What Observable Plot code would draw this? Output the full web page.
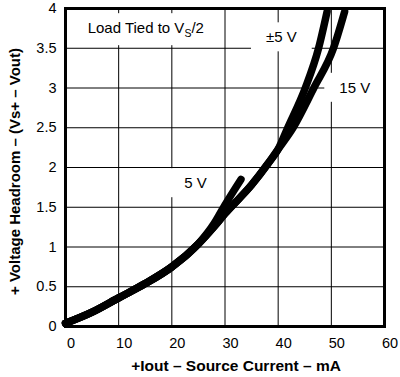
<!DOCTYPE html>
<html><head><meta charset="utf-8">
<script src="https://cdn.jsdelivr.net/npm/d3@7"></script>
<script src="https://cdn.jsdelivr.net/npm/@observablehq/plot@0.6"></script>
<style>body{margin:0;background:#fff}</style>
</head><body><div id="chart"></div>
<script>
// Tick values
const xTicks = [0, 10, 20, 30, 40, 50, 60];
const yTicks = [0, 0.5, 1, 1.5, 2, 2.5, 3, 3.5, 4];
const xGrid = [10, 20, 30, 40, 50];
const yGrid = [0.5, 1, 1.5, 2, 2.5, 3, 3.5];

// Shared low-current part of all curves (mA, V)
const commonX = [0, 5, 10, 15, 20, 25];
const commonY = [0.04, 0.18, 0.36, 0.54, 0.75, 1.04];
// Shared middle part of ±5 V and 15 V
const midX = [28, 30, 35, 38, 40];
const midY = [1.26, 1.42, 1.78, 2.04, 2.23];
// 5 V branch
const v5X = [28, 30, 33];
const v5Y = [1.3, 1.53, 1.85];
// ±5 V upper part
const pm5X = [41.8, 45.1, 47.6, 49.2];
const pm5Y = [2.5, 3.0, 3.5, 3.96];
// 15 V upper part
const v15X = [42.8, 46.7, 50.4, 52.5];
const v15Y = [2.5, 3.0, 3.5, 3.96];

// Annotations
const annoText = ["Load Tied to VS/2", "±5 V", "15 V", "5 V"];
const annoX = [15.1, 40.6, 54.4, 24.45];
const annoY = [3.75, 3.635, 3.0, 1.8];

const xTitle = "+Iout – Source Current – mA";
const yTitle = "+ Voltage Headroom – (Vs+ – Vout)";

function pts(name, xs, ys) { return xs.map((x, i) => ({series: name, x, y: ys[i]})); }
const series = [
  ...pts("5 V", [...commonX, ...v5X], [...commonY, ...v5Y]),
  ...pts("±5 V", [...commonX, ...midX, ...pm5X], [...commonY, ...midY, ...pm5Y]),
  ...pts("15 V", [...commonX, ...midX, ...v15X], [...commonY, ...midY, ...v15Y])
];
const annos = annoText.map((t, i) => ({t, x: annoX[i], y: annoY[i]}));

const font = "'Liberation Sans', Arial, Helvetica, sans-serif";

const plot = Plot.plot({
  width: 400, height: 377,
  marginLeft: 65, marginRight: 16, marginTop: 8, marginBottom: 51,
  style: {fontFamily: font, fontSize: "14.5px", color: "black", background: "white"},
  x: {domain: [0, 60]},
  y: {domain: [0, 4]},
  marks: [
    Plot.ruleX(xGrid, {stroke: "black", strokeWidth: 1}),
    Plot.ruleY(yGrid, {stroke: "black", strokeWidth: 1}),
    Plot.line(series, {x: "x", y: "y", z: "series", stroke: "black", strokeWidth: 7.5,
      strokeLinecap: "round", strokeLinejoin: "round", curve: "monotone-x"}),
    Plot.text(annos, {x: "x", y: "y", text: "t", fontSize: 15, fill: "black"}),
    Plot.axisX(xTicks, {tickSize: 0, tickPadding: 11, dx: 5.5, label: null, fontSize: 14.5,
      tickFormat: d => String(d)}),
    Plot.axisY(yTicks, {tickSize: 0, tickPadding: 9, label: null, fontSize: 14.5,
      tickFormat: d => String(d)}),
    Plot.text([xTitle], {text: d => d, frameAnchor: "bottom", dy: 40, dx: 11,
      textAnchor: "middle", lineAnchor: "middle", fontWeight: "bold", fontSize: 15.5}),
    Plot.text([yTitle], {text: d => d, frameAnchor: "left", dx: -50, dy: 4, rotate: -90,
      textAnchor: "middle", lineAnchor: "middle", fontWeight: "bold", fontSize: 15}),
    Plot.frame({stroke: "black", strokeWidth: 3})
  ]
});

document.getElementById("chart").append(plot);

// Subscript S and white knock-out boxes behind annotations
const ns = "http://www.w3.org/2000/svg";
const svgRect = plot.getBoundingClientRect();
const lineG = plot.querySelector('g[aria-label="line"]');
plot.querySelectorAll("text").forEach(t => {
  const s = t.textContent;
  if (!annoText.includes(s)) return;
  if (s === annoText[0]) {
    t.textContent = "Load Tied to V";
    const sub = document.createElementNS(ns, "tspan");
    sub.setAttribute("font-size", "10.5");
    sub.setAttribute("dy", "4");
    sub.textContent = "S";
    const rest = document.createElementNS(ns, "tspan");
    rest.setAttribute("dy", "-4");
    rest.textContent = "/2";
    t.append(sub, rest);
  }
  const r = t.getBoundingClientRect();
  const padX = s === annoText[0] ? 19 : 15, padY = 6;
  const rect = document.createElementNS(ns, "rect");
  rect.setAttribute("x", r.left - svgRect.left - padX);
  rect.setAttribute("y", r.top - svgRect.top - padY);
  rect.setAttribute("width", r.width + 2 * padX);
  rect.setAttribute("height", r.height + 2 * padY);
  rect.setAttribute("fill", "white");
  plot.insertBefore(rect, lineG);
});
</script>
</body></html>
